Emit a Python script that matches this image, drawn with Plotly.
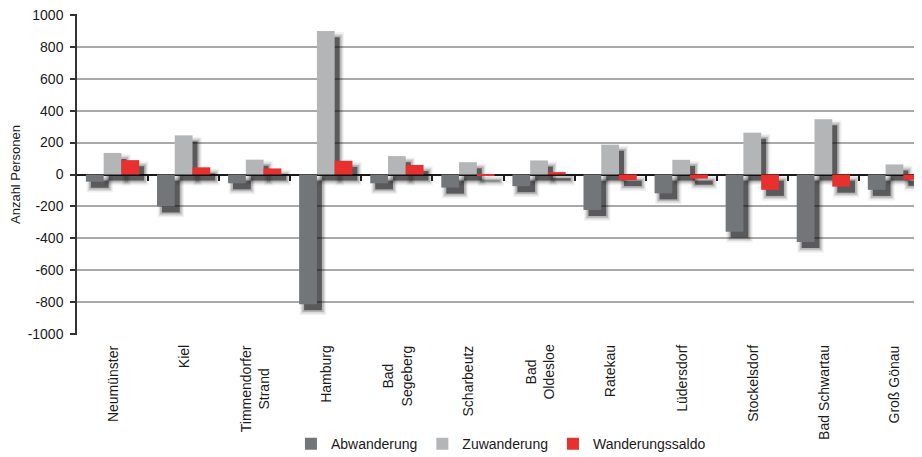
import plotly.graph_objects as go

categories = ["Neumünster", "Kiel", "Timmendorfer<br>Strand", "Hamburg", "Bad<br>Segeberg",
              "Scharbeutz", "Bad<br>Oldesloe", "Ratekau", "Lüdersdorf", "Stockelsdorf",
              "Bad Schwartau", "Groß Gönau"]
abwanderung = [-45, -200, -55, -812, -55, -82, -73, -222, -118, -358, -422, -96]
zuwanderung = [135, 245, 93, 898, 115, 77, 88, 187, 92, 262, 346, 63]
saldo = [90, 45, 38, 86, 60, -5, 15, -35, -26, -96, -76, -33]
y_tickvals = [1000, 800, 600, 400, 200, 0, -200, -400, -600, -800, -1000]
y_ticktext = ["1000", "800", "600", "400", "200", "0", "-200", "-400", "-600", "-800", "-1000"]

series = [("Abwanderung", abwanderung, "#737678"),
          ("Zuwanderung", zuwanderung, "#b3b5b6"),
          ("Wanderungssaldo", saldo, "#e8302f")]

BW = 0.25
SDX = 0.07   # shadow shift (category units)
SDY = 38     # shadow shift (data units)
FONT = "Liberation Sans, Arial, sans-serif"

fig = go.Figure()

# drop shadows (drawn from the same data, beneath the bars)
for (name, vals, col), i in zip(series, range(3)):
    for ex, ey, op in [(0.06, 30, 0.06), (0.042, 20, 0.1), (0.025, 11, 0.18), (0.0, 0, 0.55)]:
        bases = [-SDY + (ey if v < 0 else -ey) for v in vals]
        ys = [v + (2 * ey if v >= 0 else -2 * ey) for v in vals]
        fig.add_trace(go.Bar(
            x=categories, y=ys, base=bases,
            offset=-0.375 + i * BW + SDX - ex, width=BW + 2 * ex,
            marker=dict(color=f"rgba(15,15,18,{op})", line=dict(width=0)),
            showlegend=False, hoverinfo="skip"))

for (name, vals, col), i in zip(series, range(3)):
    fig.add_trace(go.Bar(
        x=categories, y=vals, name=name,
        offset=-0.375 + i * BW, width=BW,
        marker=dict(color=col, line=dict(width=0))))

# helper axis for category boundary ticks on the zero line
fig.add_trace(go.Scatter(x=[None], y=[None], xaxis="x2", showlegend=False, hoverinfo="skip"))

# category labels (centred multi-line, rotated)
for c in categories:
    fig.add_annotation(x=c, xref="x", y=-0.025, yref="paper", text=c, textangle=-90,
                       showarrow=False, xanchor="center", yanchor="top", align="center",
                       font=dict(size=14, color="#1a1a1a"))

XR = [-0.5, 11.5]
fig.update_layout(
    width=922, height=457,
    margin=dict(l=69, r=0, t=6, b=130),
    paper_bgcolor="white", plot_bgcolor="white",
    barmode="overlay",
    font=dict(family=FONT, size=13, color="#1a1a1a"),
    xaxis=dict(type="category", range=XR, showticklabels=False,
               showgrid=False, showline=False, ticks="", zeroline=False),
    xaxis2=dict(overlaying="x", anchor="free", position=0.5, range=XR,
                tickvals=[k + 0.5 for k in range(11)], ticks="outside", ticklen=5,
                tickwidth=1.5, tickcolor="#1a1a1a", showticklabels=False,
                showgrid=False, showline=False, zeroline=False),
    yaxis=dict(range=[-1005, 1005], tickvals=y_tickvals, ticktext=y_ticktext,
               showgrid=True, gridcolor="#a9a9a9",
               gridwidth=1.5, zeroline=True, zerolinecolor="#1a1a1a", zerolinewidth=1.8,
               showline=True, linecolor="#333333", linewidth=1.5,
               ticks="outside", ticklen=5, tickcolor="#333333", tickwidth=1.5,
               ticklabelstandoff=4, ticklabeloverflow="allow", automargin=False,
               tickfont=dict(size=14, color="#1a1a1a"),
               title=dict(text="Anzahl Personen", standoff=6, font=dict(size=13))),
    legend=dict(orientation="h", x=0.497, xanchor="center", y=-0.34, yanchor="middle",
                font=dict(size=14, color="#1a1a1a"), itemwidth=30, traceorder="normal",
                bgcolor="rgba(0,0,0,0)"),
)

fig.write_html("out.html")
